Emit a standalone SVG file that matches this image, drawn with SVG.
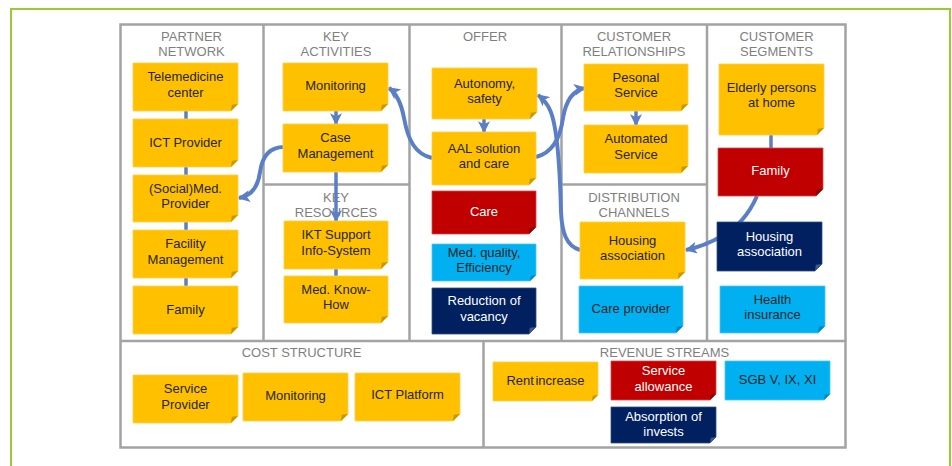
<svg xmlns="http://www.w3.org/2000/svg" width="952" height="466" viewBox="0 0 952 466">
<style>
.frame{fill:none;stroke:#a3a3a3;stroke-width:2.5}
.hd{font-family:"Liberation Sans",Arial,sans-serif;font-size:13px;fill:#7f7f7f;text-anchor:middle}
.t{font-family:"Liberation Sans",Arial,sans-serif;font-size:13px;text-anchor:middle;fill:#262626}
.w{fill:#ffffff}
.y{fill:#FFC000;stroke:#ffd24d;stroke-width:0.8}
.yf{fill:#c99700}
.r{fill:#C00000;stroke:#d44a4a;stroke-width:0.8}
.rf{fill:#8a0000}
.n{fill:#002060;stroke:#33507f;stroke-width:0.8}
.nf{fill:#3a5a8f}
.b{fill:#00B0F0;stroke:#4dc8f5;stroke-width:0.8}
.bf{fill:#0088c0}
.c{fill:none;stroke:#5B7FC7;stroke-width:4;stroke-linecap:butt}
.s{fill:none;stroke:#5B7FC7;stroke-width:3.5}
</style>
<defs>
<marker id="ah" markerUnits="userSpaceOnUse" markerWidth="12" markerHeight="12" viewBox="0 0 10 10" refX="9" refY="5" orient="auto">
<path d="M0,0 L10,5 L0,10 L2.5,5 Z" fill="#5B7FC7"/>
</marker>
</defs>
<rect x="11" y="9" width="939" height="480" fill="#ffffff" stroke="#99CC33" stroke-width="2"/>
<g id="canvas">
<rect class="frame" x="120.5" y="24.5" width="725" height="423"/>
<line class="frame" x1="263.5" y1="24" x2="263.5" y2="341"/>
<line class="frame" x1="409.5" y1="24" x2="409.5" y2="341"/>
<line class="frame" x1="561.5" y1="24" x2="561.5" y2="341"/>
<line class="frame" x1="707" y1="24" x2="707" y2="341"/>
<line class="frame" x1="120" y1="341" x2="846" y2="341"/>
<line class="frame" x1="263" y1="184.5" x2="409" y2="184.5"/>
<line class="frame" x1="561" y1="184.5" x2="707" y2="184.5"/>
<line class="frame" x1="483.5" y1="341" x2="483.5" y2="448"/>
</g>
<g id="headers">
<text class="hd" x="191.5" y="41">PARTNER</text><text class="hd" x="191.5" y="56">NETWORK</text>
<text class="hd" x="336" y="41">KEY</text><text class="hd" x="336" y="56">ACTIVITIES</text>
<text class="hd" x="485" y="41">OFFER</text>
<text class="hd" x="634" y="41">CUSTOMER</text><text class="hd" x="634" y="56">RELATIONSHIPS</text>
<text class="hd" x="776.5" y="41">CUSTOMER</text><text class="hd" x="776.5" y="56">SEGMENTS</text>
<text class="hd" x="336" y="202">KEY</text><text class="hd" x="336" y="217">RESOURCES</text>
<text class="hd" x="634" y="202">DISTRIBUTION</text><text class="hd" x="634" y="217">CHANNELS</text>
<text class="hd" x="301.5" y="357">COST STRUCTURE</text>
<text class="hd" x="664.5" y="357">REVENUE STREAMS</text>
</g>
<g id="connectors">
<line class="s" x1="186" y1="111" x2="186" y2="286"/>
<line class="s" x1="336" y1="269" x2="336" y2="276"/>
<line class="s" x1="771" y1="135" x2="771" y2="148"/>
<line class="s" x1="336" y1="111" x2="336" y2="124" marker-end="url(#ah)"/>
<line class="s" x1="336" y1="172" x2="336" y2="221" marker-end="url(#ah)"/>
<line class="s" x1="484" y1="119" x2="484" y2="132" marker-end="url(#ah)"/>
<line class="s" x1="636" y1="111" x2="636" y2="125" marker-end="url(#ah)"/>
<path class="c" d="M284,147 C268,147 262,158 260,172 C258,188 250,196 239,198" marker-end="url(#ah)"/>
<path class="c" d="M432,158 C415,154 408,140 404,118 C401,102 396,93 389,88" marker-end="url(#ah)"/>
<path class="c" d="M536,157 C552,153 560,140 563,118 C566,100 574,90 585,88" marker-end="url(#ah)"/>
<path class="c" d="M580,250 C566,246 562,232 561,212 C560,170 557,125 550,110 C547,103 543,99 538,95" marker-end="url(#ah)"/>
<path class="c" d="M757,196 C750,212 740,226 722,236 C710,243 700,247 686,250" marker-end="url(#ah)"/>
</g>
<g id="n-telemedicine"><path class="y" d="M133,63H238V104L231,111H133Z"/><path class="yf" d="M238,104L231,111L231.8,104.8Z"/><text class="t" x="185.5" y="81">Telemedicine</text><text class="t" x="185.5" y="96.5">center</text></g>
<g id="n-ict-provider"><path class="y" d="M133,119H238V160L231,167H133Z"/><path class="yf" d="M238,160L231,167L231.8,160.8Z"/><text class="t" x="185.5" y="146.5">ICT Provider</text></g>
<g id="n-social-med"><path class="y" d="M133,175H238V215L231,222H133Z"/><path class="yf" d="M238,215L231,222L231.8,215.8Z"/><text class="t" x="185.5" y="192.5">(Social)Med.</text><text class="t" x="185.5" y="208">Provider</text></g>
<g id="n-facility"><path class="y" d="M133,230H238V271L231,278H133Z"/><path class="yf" d="M238,271L231,278L231.8,271.8Z"/><text class="t" x="185.5" y="248">Facility</text><text class="t" x="185.5" y="263.5">Management</text></g>
<g id="n-family-pn"><path class="y" d="M133,286H238V327L231,334H133Z"/><path class="yf" d="M238,327L231,334L231.8,327.8Z"/><text class="t" x="185.5" y="313.5">Family</text></g>
<g id="n-monitoring"><path class="y" d="M283,63H388V104L381,111H283Z"/><path class="yf" d="M388,104L381,111L381.8,104.8Z"/><text class="t" x="335.5" y="90">Monitoring</text></g>
<g id="n-case"><path class="y" d="M283,124H388V165L381,172H283Z"/><path class="yf" d="M388,165L381,172L381.8,165.8Z"/><text class="t" x="335.5" y="142">Case</text><text class="t" x="335.5" y="157.5">Management</text></g>
<g id="n-ikt"><path class="y" d="M284,221H388V262L381,269H284Z"/><path class="yf" d="M388,262L381,269L381.8,262.8Z"/><text class="t" x="336" y="239">IKT Support</text><text class="t" x="336" y="254.5">Info-System</text></g>
<g id="n-knowhow"><path class="y" d="M284,276H388V316L381,323H284Z"/><path class="yf" d="M388,316L381,323L381.8,316.8Z"/><text class="t" x="336" y="293.5">Med. Know-</text><text class="t" x="336" y="309">How</text></g>
<g id="n-autonomy"><path class="y" d="M432,68H537V112L530,119H432Z"/><path class="yf" d="M537,112L530,119L530.8,112.8Z"/><text class="t" x="484.5" y="87.5">Autonomy,</text><text class="t" x="484.5" y="103">safety</text></g>
<g id="n-aal"><path class="y" d="M432,132H536V178L529,185H432Z"/><path class="yf" d="M536,178L529,185L529.8,178.8Z"/><text class="t" x="484" y="152.5">AAL solution</text><text class="t" x="484" y="168">and care</text></g>
<g id="n-care"><path class="r" d="M432,191H536V227L529,234H432Z"/><path class="rf" d="M536,227L529,234L529.8,227.8Z"/><text class="t w" x="484" y="215.5">Care</text></g>
<g id="n-medquality"><path class="b" d="M432,244H536V275L530,281H432Z"/><path class="bf" d="M536,275L530,281L530.7,275.7Z"/><text class="t" x="484" y="256.5">Med. quality,</text><text class="t" x="484" y="272">Efficiency</text></g>
<g id="n-vacancy"><path class="n" d="M432,288H536V327L529,334H432Z"/><path class="nf" d="M536,327L529,334L529.8,327.8Z"/><text class="t w" x="484" y="305">Reduction of</text><text class="t w" x="484" y="320.5">vacancy</text></g>
<g id="n-personal"><path class="y" d="M584,64H688V104L681,111H584Z"/><path class="yf" d="M688,104L681,111L681.8,104.8Z"/><text class="t" x="636" y="81.5">Pesonal</text><text class="t" x="636" y="97">Service</text></g>
<g id="n-automated"><path class="y" d="M584,125H688V166L681,173H584Z"/><path class="yf" d="M688,166L681,173L681.8,166.8Z"/><text class="t" x="636" y="143">Automated</text><text class="t" x="636" y="158.5">Service</text></g>
<g id="n-housing-dc"><path class="y" d="M580,222H685V272L678,279H580Z"/><path class="yf" d="M685,272L678,279L678.8,272.8Z"/><text class="t" x="632.5" y="244.5">Housing</text><text class="t" x="632.5" y="260">association</text></g>
<g id="n-careprovider"><path class="b" d="M579,286H683V326L676,333H579Z"/><path class="bf" d="M683,326L676,333L676.8,326.8Z"/><text class="t" x="631" y="312.5">Care provider</text></g>
<g id="n-elderly"><path class="y" d="M719,64H824V128L817,135H719Z"/><path class="yf" d="M824,128L817,135L817.8,128.8Z"/><text class="t" x="771.5" y="92">Elderly persons</text><text class="t" x="771.5" y="107">at home</text></g>
<g id="n-family-cs"><path class="r" d="M718,148H823V189L816,196H718Z"/><path class="rf" d="M823,189L816,196L816.8,189.8Z"/><text class="t w" x="770.5" y="175">Family</text></g>
<g id="n-housing-cs"><path class="n" d="M717,222H822V264L815,271H717Z"/><path class="nf" d="M822,264L815,271L815.8,264.8Z"/><text class="t w" x="769.5" y="240.5">Housing</text><text class="t w" x="769.5" y="256">association</text></g>
<g id="n-health"><path class="b" d="M720,286H825V326L818,333H720Z"/><path class="bf" d="M825,326L818,333L818.8,326.8Z"/><text class="t" x="772.5" y="303.5">Health</text><text class="t" x="772.5" y="319">insurance</text></g>
<g id="n-cost-service"><path class="y" d="M133,375H238V416L231,423H133Z"/><path class="yf" d="M238,416L231,423L231.8,416.8Z"/><text class="t" x="185.5" y="393">Service</text><text class="t" x="185.5" y="408.5">Provider</text></g>
<g id="n-cost-monitoring"><path class="y" d="M243,373H348V414L341,421H243Z"/><path class="yf" d="M348,414L341,421L341.8,414.8Z"/><text class="t" x="295.5" y="399.5">Monitoring</text></g>
<g id="n-cost-ict"><path class="y" d="M355,373H460V414L453,421H355Z"/><path class="yf" d="M460,414L453,421L453.8,414.8Z"/><text class="t" x="407.5" y="398.5">ICT Platform</text></g>
<g id="n-rent"><path class="y" d="M493,362H598V395L592,401H493Z"/><path class="yf" d="M598,395L592,401L592.7,395.7Z"/><text class="t" x="545.5" y="384.5" word-spacing="-2">Rent increase</text></g>
<g id="n-allowance"><path class="r" d="M611,361H716V394L710,400H611Z"/><path class="rf" d="M716,394L710,400L710.7,394.7Z"/><text class="t w" x="663.5" y="375">Service</text><text class="t w" x="663.5" y="390.5">allowance</text></g>
<g id="n-sgb"><path class="b" d="M725,361H830V394L824,400H725Z"/><path class="bf" d="M830,394L824,400L824.7,394.7Z"/><text class="t" x="777.5" y="383.5">SGB V, IX, XI</text></g>
<g id="n-invests"><path class="n" d="M611,407H716V437L710,443H611Z"/><path class="nf" d="M716,437L710,443L710.7,437.7Z"/><text class="t w" x="663.5" y="420.5">Absorption of</text><text class="t w" x="663.5" y="436">invests</text></g>
</svg>
